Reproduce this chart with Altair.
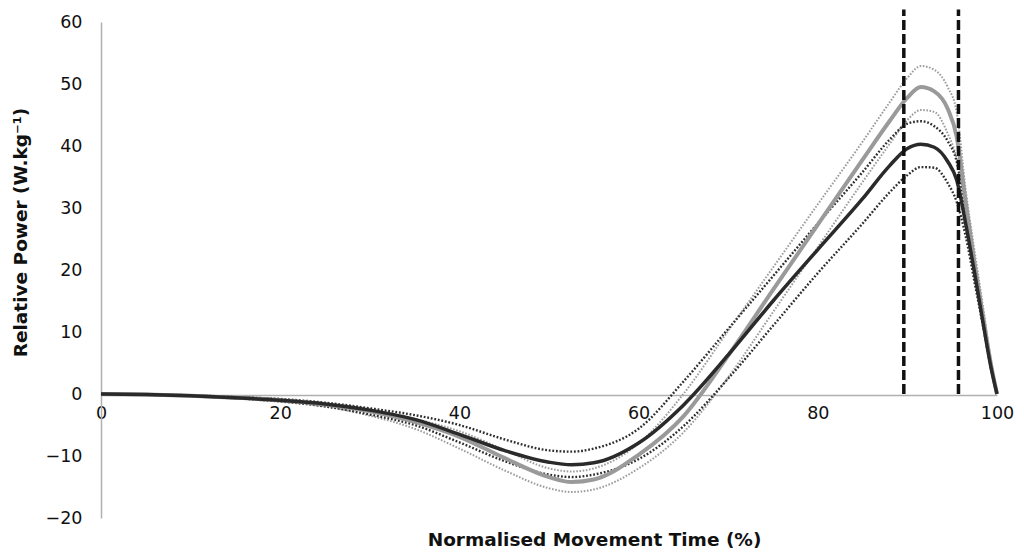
import altair as alt
import pandas as pd

X = [0, 5, 10, 15, 20, 25, 30, 35, 40, 45, 50, 52.5, 55, 60, 65, 70, 75, 80, 85, 88, 90, 91.5, 93, 94.5, 95.5, 96.5, 97.5, 98.5, 99.3, 100]

gray_mean = [0, -0.1, -0.3, -0.6, -1.0, -1.7, -2.8, -4.5, -6.9, -10.3, -13.4, -14.2, -13.8, -9.8, -3.6, 6.2, 16.8, 27.3, 37.8, 44.0, 47.8, 49.5, 48.8, 46.0, 41.5, 31.0, 21.0, 12.0, 5.0, 0]
dark_mean = [0, -0.1, -0.3, -0.6, -1.0, -1.6, -2.6, -4.1, -6.5, -9.1, -11.0, -11.4, -11.1, -7.9, -1.8, 6.3, 15.0, 23.3, 31.5, 36.8, 39.6, 40.3, 39.8, 37.5, 34.5, 27.5, 19.5, 11.0, 4.5, 0]
gray_upper = [0, -0.1, -0.2, -0.5, -0.9, -1.5, -2.5, -4.0, -6.0, -9.0, -12.0, -12.5, -12.0, -8.0, 0.0, 10.2, 20.4, 30.6, 40.7, 47.0, 51.0, 52.9, 52.3, 49.5, 45.5, 33.0, 23.0, 13.5, 5.5, 0]
gray_lower = [0, -0.1, -0.3, -0.7, -1.2, -2.0, -3.5, -5.6, -8.8, -12.3, -15.2, -15.8, -15.4, -12.0, -6.2, 2.7, 13.2, 23.7, 34.2, 40.3, 44.2, 45.8, 45.5, 42.0, 38.0, 30.0, 21.0, 12.0, 4.8, 0]
dark_upper = [0, -0.1, -0.2, -0.5, -0.8, -1.4, -2.3, -3.4, -5.0, -7.3, -9.1, -9.3, -8.8, -5.6, 2.0, 10.5, 19.0, 27.5, 35.8, 41.0, 43.6, 44.0, 43.2, 40.8, 37.5, 29.0, 20.5, 11.5, 4.5, 0]
dark_lower = [0, -0.1, -0.3, -0.7, -1.2, -2.0, -3.3, -5.0, -7.8, -10.8, -13.0, -13.4, -13.0, -10.5, -5.2, 2.5, 11.0, 19.5, 27.5, 32.5, 35.3, 36.6, 36.5, 34.0, 31.0, 25.5, 18.0, 10.5, 4.3, 0]

phase_lines = [89.6, 95.7]
phase_top = 62

x_ticks = [0, 20, 40, 60, 80, 100]
y_ticks = [-20, -10, 0, 10, 20, 30, 40, 50, 60]

FONT = "DejaVu Sans"

def frame(vals):
    return pd.DataFrame({"x": X, "y": vals})

xenc = alt.X("x:Q", scale=alt.Scale(domain=[0, 100], nice=False),
             axis=alt.Axis(values=x_ticks, ticks=False, grid=False, offset=-123,
                           domainColor="#b0b0b0", domainWidth=1.5,
                           labelFont=FONT, labelFontSize=17.5, labelColor="#111",
                           labelPadding=9, labelFlush=False,
                           title="Normalised Movement Time (%)", titleFont=FONT,
                           titleFontSize=18.5, titleFontWeight="bold", titleColor="#111",
                           titleX=493, titleY=144, titleBaseline="middle"))
yenc = alt.Y("y:Q", scale=alt.Scale(domain=[-20, 60], nice=False),
             axis=alt.Axis(values=y_ticks, ticks=False, grid=False,
                           domainColor="#b0b0b0", domainWidth=1.5,
                           labelFont=FONT, labelFontSize=17.5, labelColor="#111",
                           labelPadding=19,
                           title="Relative Power (W.kg⁻¹)", titleFont=FONT,
                           titleFontSize=18.5, titleFontWeight="bold", titleColor="#111",
                           titleX=-81, titleY=210, titleBaseline="middle"))

def line(vals, color, width, dash=None):
    kw = dict(color=color, strokeWidth=width, interpolate="monotone", clip=False)
    if dash:
        kw["strokeDash"] = dash
        kw["strokeCap"] = "butt"
    return alt.Chart(frame(vals)).mark_line(**kw).encode(x=xenc, y=yenc)

layers = [
    line(gray_upper, "#9c9c9c", 2, [1.6, 1.6]),
    line(gray_lower, "#9c9c9c", 2, [1.6, 1.6]),
    line(dark_upper, "#2e2e2e", 2.4, [1.8, 1.8]),
    line(dark_lower, "#2e2e2e", 2.4, [1.8, 1.8]),
    line(gray_mean, "#9a9a9a", 4),
    line(dark_mean, "#2a2a2a", 3.5),
]

rules = alt.Chart(pd.DataFrame({"x": phase_lines, "y": [0] * len(phase_lines),
                                "y2": [phase_top] * len(phase_lines)})).mark_rule(
    color="#111", strokeWidth=3.5, strokeDash=[10, 4], clip=False
).encode(x="x:Q", y="y:Q", y2="y2:Q")

chart = alt.layer(*layers, rules).properties(
    width=896, height=496,
    autosize=alt.AutoSizeParams(type="none"),
    padding={"left": 93, "top": 14, "right": 19, "bottom": 36},
).configure_view(stroke=None)

chart.save("out.html", embed_options={"renderer": "svg", "actions": False})
